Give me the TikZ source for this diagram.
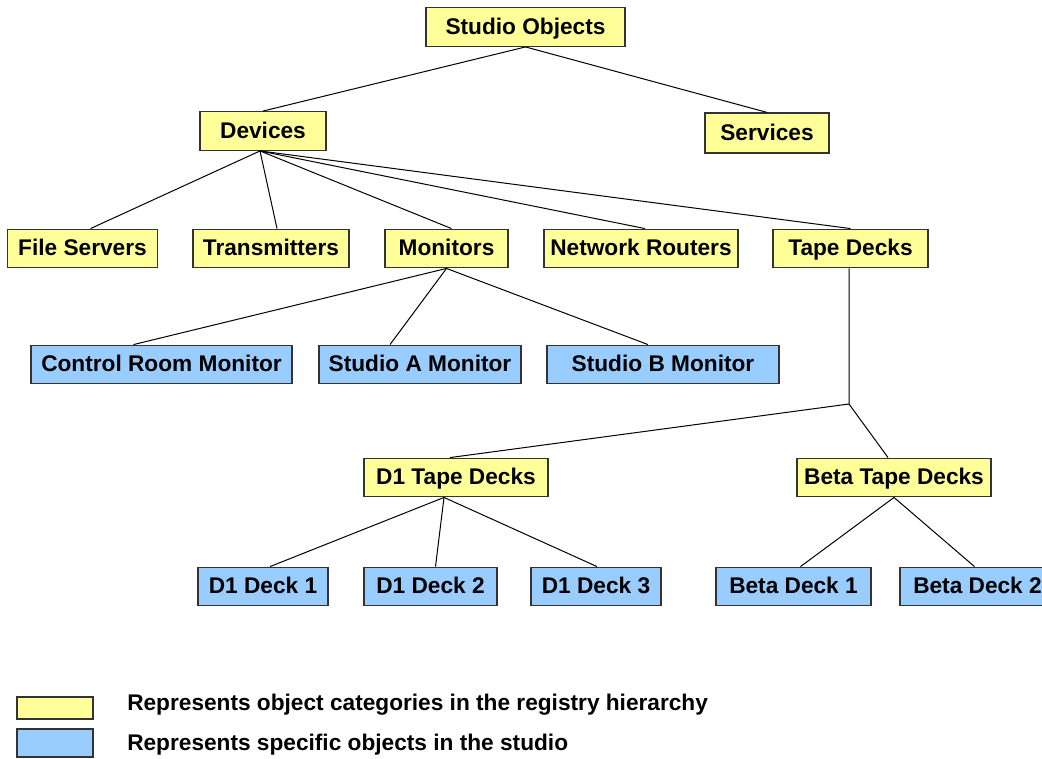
\documentclass[tikz,border=0pt]{standalone}
\usepackage{fontspec}
\setmainfont{Liberation Sans}
\usetikzlibrary{calc}
\definecolor{catyellow}{HTML}{FFFF99}
\definecolor{objblue}{HTML}{99CCFF}
\definecolor{edgegray}{HTML}{333333}
\tikzset{
  basebox/.style={draw=edgegray, line width=0.9pt, inner sep=0pt, minimum height=29pt,
    text height=11pt, text depth=0pt,
    font=\fontsize{17pt}{20pt}\selectfont\bfseries, text=black},
  catbox/.style={basebox, fill=catyellow, minimum width=#1*0.75pt},
  objbox/.style={basebox, fill=objblue, minimum width=#1*0.75pt},
  link/.style={line width=0.75pt, black},
  legendtext/.style={anchor=west, inner sep=0pt, font=\fontsize{17pt}{20pt}\selectfont\bfseries}
}
\begin{document}
\begin{tikzpicture}[x=0.75pt, y=-0.75pt]
\useasboundingbox (0,0) rectangle (1042,758);
\begin{scope}
\clip (0,0) rectangle (1042,758);
% categories
\node[catbox=199] (so) at (525.5,27) {Studio Objects};
\node[catbox=126] (dev) at (263,131) {Devices};
\node[catbox=124, minimum height=30pt] (svc) at (767,133) {Services};
\node[catbox=150] (fs) at (82.5,248.5) {File Servers};
\node[catbox=156] (tx) at (271,248.5) {Transmitters};
\node[catbox=123] (mon) at (446.5,248.5) {Monitors};
\node[catbox=194] (nr) at (641,248.5) {Network Routers};
\node[catbox=155] (td) at (850.5,248.5) {Tape Decks};
\node[catbox=184] (d1td) at (456,477.5) {D1 Tape Decks};
\node[catbox=194] (btd) at (894,477.5) {Beta Tape Decks};
% objects
\node[objbox=261] (crm) at (161.5,364.5) {Control Room Monitor};
\node[objbox=202] (sam) at (420,364.5) {Studio A Monitor};
\node[objbox=232] (sbm) at (663,364.5) {Studio B Monitor};
\node[objbox=130] (dd1) at (263,586.5) {D1 Deck 1};
\node[objbox=133] (dd2) at (430.5,586.5) {D1 Deck 2};
\node[objbox=130] (dd3) at (596,586.5) {D1 Deck 3};
\node[objbox=155] (bd1) at (793.5,586.5) {Beta Deck 1};
\node[objbox=155] (bd2) at (977.5,586.5) {Beta Deck 2};
\end{scope}
\coordinate (tdj) at (849,404);
% connectors
\draw[link] (so.south) -- (dev.north);
\draw[link] (so.south) -- (svc.north);
\draw[link] ([xshift=-2.25pt]dev.south) -- ([xshift=6pt]fs.north);
\draw[link] ([xshift=-2.25pt]dev.south) -- ([xshift=4.5pt]tx.north);
\draw[link] ([xshift=-2.25pt]dev.south) -- ([xshift=3.75pt]mon.north);
\draw[link] ([xshift=-2.25pt]dev.south) -- ([xshift=3pt]nr.north);
\draw[link] ([xshift=-2.25pt]dev.south) -- (td.north);
\draw[link] (mon.south) -- ([xshift=-21pt]crm.north);
\draw[link] (mon.south) -- ([xshift=-22.5pt]sam.north);
\draw[link] (mon.south) -- ([xshift=-11.25pt]sbm.north);
\draw[link] ([xshift=-1pt]td.south) -- (tdj);
\draw[link] (tdj) -- ([xshift=-4.5pt]d1td.north);
\draw[link] (tdj) -- ([xshift=-4.5pt]btd.north);
\draw[link] ([xshift=-9pt]d1td.south) -- ([xshift=5.25pt]dd1.north);
\draw[link] ([xshift=-9pt]d1td.south) -- ([xshift=3.75pt]dd2.north);
\draw[link] ([xshift=-9pt]d1td.south) -- ([xshift=0.75pt]dd3.north);
\draw[link] (btd.south) -- ([xshift=5.25pt]bd1.north);
\draw[link] (btd.south) -- ([xshift=-2.25pt]bd2.north);
% legend
\node[draw=edgegray, line width=0.9pt, fill=catyellow, inner sep=0pt, minimum width=57pt, minimum height=16.5pt] (lgy) at (55,708) {};
\node[draw=edgegray, line width=0.9pt, fill=objblue, inner sep=0pt, minimum width=57pt, minimum height=21pt] (lgb) at (55,743) {};
\node[legendtext] (lty) at (127,705) {Represents object categories in the registry hierarchy};
\node[legendtext] (ltb) at (127,745) {Represents specific objects in the studio};
\end{tikzpicture}
\end{document}
